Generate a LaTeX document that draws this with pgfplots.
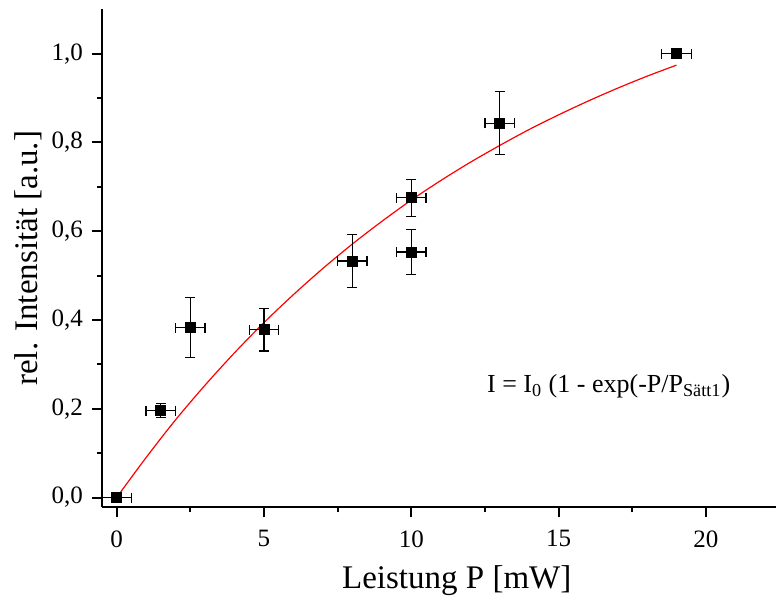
\documentclass[border=0pt]{standalone}
\usepackage{fontspec}
\setmainfont{Liberation Serif}
\usepackage{pgfplots}
\pgfplotsset{compat=1.18}

\begin{document}
\begin{tikzpicture}
\begin{axis}[
  scale only axis, width=337pt, height=249pt,
  xmin=-0.5, xmax=22.38, ymin=-0.022, ymax=1.1,
  axis x line*=bottom, axis y line*=left,
  axis line style={line width=1pt, -},
  tick align=outside, major tick length=5pt, minor tick length=2.5pt,
  tick style={line width=1pt, black},
  xtick={0,5,10,15,20}, minor x tick num=1,
  ytick={0,0.2,0.4,0.6,0.8,1.0}, minor y tick num=1,
  /pgf/number format/assume math mode=true,
  yticklabel style={/pgf/number format/fixed, /pgf/number format/fixed zerofill,
    /pgf/number format/precision=1, /pgf/number format/use comma, xshift=-1pt},
  xticklabel style={yshift=-3pt},
  ticklabel style={font=\fontsize{12.5}{15}\selectfont},
  xlabel={Leistung P [mW]}, ylabel={rel. Intensität [a.u.]},
  label style={font=\fontsize{16.5}{19}\selectfont},
  xlabel style={at={(axis description cs:0.5264,-0.1626)}, anchor=base},
  ylabel style={at={(axis description cs:-0.0962,0.5)}, anchor=base},
  clip=false,
]
% fit curve I = I0 (1 - exp(-P/Ps))
\addplot[red, line width=0.6pt, smooth] coordinates {
  (0,0) (1,0.090) (2,0.175) (3,0.253) (4,0.326) (5,0.394) (6,0.457)
  (7,0.516) (8,0.571) (9,0.622) (10,0.670) (11,0.714) (12,0.755)
  (13,0.793) (14,0.829) (15,0.862) (16,0.893) (17,0.922) (18,0.949) (19,0.974)
};
% measured points
\addplot[only marks, mark=square*, mark size=2.5pt, black,
  error bars/.cd, x dir=both, x explicit, y dir=both, y explicit,
  error bar style={line width=0.6pt, black},
  error mark options={rotate=90, mark size=2.5pt, line width=0.6pt, black}]
  coordinates {
  (0,0) +- (0.5,0)
  (1.5,0.196) +- (0.5,0.016)
  (2.5,0.383) +- (0.5,0.067)
  (5,0.378) +- (0.5,0.048)
  (8,0.533) +- (0.5,0.060)
  (10,0.675) +- (0.5,0.042)
  (10,0.553) +- (0.5,0.050)
  (13,0.843) +- (0.5,0.071)
  (19,1.000) +- (0.5,0)
};
\node[font=\fontsize{13}{16}\selectfont] at (axis cs:16.7,0.25)
  {I = I\textsubscript{0} (1 - exp(-P/P\textsubscript{Sätt1})};
\coordinate (bl) at (axis cs:-3.958,-0.2337);
\coordinate (tr) at (axis cs:22.38,1.1208);
\end{axis}
\pgfresetboundingbox
\path (bl) rectangle (tr);
\end{tikzpicture}
\end{document}
